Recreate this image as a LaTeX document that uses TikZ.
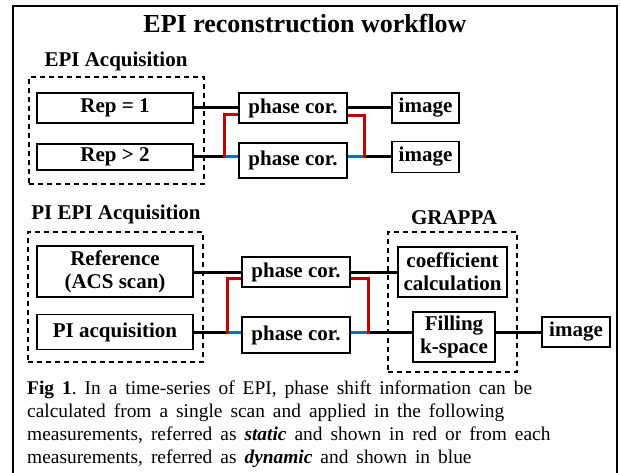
\documentclass[tikz,border=0pt]{standalone}
\usepackage{fontspec}
\setmainfont{Liberation Serif}
\usetikzlibrary{calc}
\definecolor{statred}{HTML}{C00000}
\definecolor{dynblue}{HTML}{0070C0}
% caption type: Times-width serif with slightly open word spacing
\newcommand\figcapfont{\fontsize{19.4}{23}\selectfont\spaceskip=8pt plus 0pt minus 0pt\xspaceskip=8pt plus 0pt minus 0pt}
\begin{document}
\begin{tikzpicture}[x=1pt,y=-1pt,
  box/.style={draw, line width=1.6pt, inner sep=0pt, align=center,
    font=\fontsize{21}{23}\selectfont\bfseries},
  grp/.style={draw, line width=1.4pt, dash pattern=on 5pt off 4pt, inner sep=0pt},
  lbl/.style={font=\fontsize{21}{23}\selectfont\bfseries, inner sep=0pt, anchor=base},
  blk/.style={line width=3pt},
  stat/.style={line width=3pt, statred},
  dyn/.style={line width=3pt, dynblue},
]
\useasboundingbox (0,0) rectangle (621,473);

% outer frame (open at the bottom)
\draw[line width=2pt] (13,473) -- (13,6) -- (617,6) -- (617,473);

% title
\node[font=\fontsize{26}{30}\selectfont\bfseries, inner sep=0pt, anchor=base]
  (title) at (305,33) {EPI reconstruction workflow};

% ---------- EPI acquisition ----------
\node[lbl] (lacq) at (116,67) {EPI Acquisition};
\node[grp, minimum width=175pt, minimum height=107pt] (gacq) at (116.5,130.5) {};
\node[box, minimum width=156pt, minimum height=30pt] (rep1) at (115,108) {Rep = 1};
\node[box, minimum width=156pt, minimum height=26pt] (rep2) at (115,157) {Rep > 2};
\node[box, minimum width=108pt, minimum height=30pt] (pc1) at (293,108) {phase cor.};
\node[box, minimum width=108pt, minimum height=35pt] (pc2) at (293,160.5) {phase cor.};
\node[box, minimum width=67pt, minimum height=30pt] (img1) at (425.5,108) {image};
\node[box, minimum width=67pt, minimum height=31pt] (img2) at (425.5,157) {image};

\coordinate (jl1) at (224,157);
\coordinate (jr1) at (364,157);

\draw[blk] (rep1.east) -- (pc1.west);
\draw[blk] (pc1.east) -- (img1.west);
\draw[blk] (rep2.east) -- (jl1);
\draw[blk] (jr1) -- (img2.west);
\draw[dyn] (jl1) -- (jl1 -| pc2.west);
\draw[dyn] (pc2.east |- jr1) -- (jr1);
\draw[stat] ([yshift=-7pt]pc1.west) -| ([yshift=-1.5pt]jl1);
\draw[stat] ([yshift=-8pt]pc1.east) -| ([yshift=-1.5pt]jr1);

% ---------- PI EPI acquisition ----------
\node[lbl] (lpi) at (116,220) {PI EPI Acquisition};
\node[grp, minimum width=175pt, minimum height=130pt] (gpi) at (115.5,297) {};
\node[box, minimum width=156pt, minimum height=51pt] (ref) at (115,271.5) {Reference\\(ACS scan)};
\node[box, minimum width=156pt, minimum height=35pt] (piacq) at (115,332) {PI acquisition};
\node[box, minimum width=108pt, minimum height=30pt] (pc3) at (296,272) {phase cor.};
\node[box, minimum width=108pt, minimum height=36pt] (pc4) at (296,335) {phase cor.};

% ---------- GRAPPA ----------
\node[lbl] (lgr) at (454,225) {GRAPPA};
\node[grp, minimum width=129pt, minimum height=140pt] (ggr) at (452.5,302) {};
\node[box, minimum width=109pt, minimum height=50pt] (coef) at (452.5,272) {coefficient\\calculation};
\node[box, minimum width=82pt, minimum height=50pt] (fill) at (454,337) {Filling\\k-space};
\node[box, minimum width=68pt, minimum height=30pt] (img3) at (576,332) {image};

\coordinate (jl2) at (227,332);
\coordinate (jr2) at (368,332);

\draw[blk] (ref.east |- pc3.west) -- (pc3.west);
\draw[blk] (pc3.east) -- (pc3.east -| coef.west);
\draw[blk] (piacq.east) -- (jl2);
\draw[blk] (jr2) -- (jr2 -| fill.west);
\draw[blk] (fill.east |- img3.west) -- (img3.west);
\draw[dyn] (jl2) -- (jl2 -| pc4.west);
\draw[dyn] (pc4.east |- jr2) -- (jr2);
\draw[stat] ([yshift=-6pt]pc3.west) -| ([yshift=-1.5pt]jl2);
\draw[stat] ([yshift=-6pt]pc3.east) -| ([yshift=-1.5pt]jr2);

% ---------- caption (anchored on the baseline of its last line) ----------
\node[anchor=base west, align=left, inner sep=0pt, font=\figcapfont] (cap) at (27,463)
  {\textbf{Fig 1}. In a time-series of EPI, phase shift information can be\\
   calculated from a single scan and applied in the following\\
   measurements, referred as \textbf{\textit{static}} and shown in red or from each\\
   measurements, referred as \textbf{\textit{dynamic}} and shown in blue};
\end{tikzpicture}
\end{document}
